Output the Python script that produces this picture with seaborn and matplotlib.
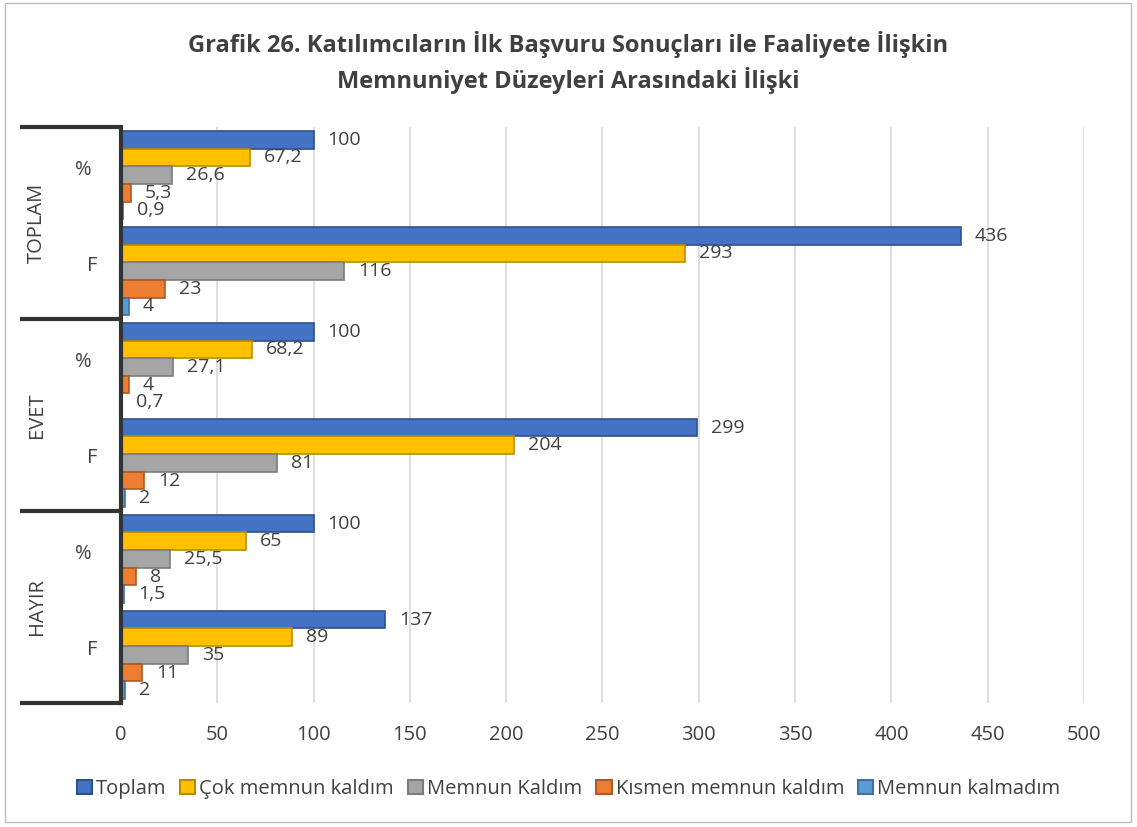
import pandas as pd
import numpy as np
import matplotlib.pyplot as plt
import seaborn as sns
from matplotlib.patches import Rectangle
import matplotlib.transforms as mtransforms

# data
groups = ['TOPLAM', 'EVET', 'HAYIR']
sub_labels = ['%', 'F']
series = ['Toplam', 'Çok memnun kaldım', 'Memnun Kaldım', 'Kısmen memnun kaldım', 'Memnun kalmadım']

toplam_pct = [100, 67.2, 26.6, 5.3, 0.9]
toplam_f = [436, 293, 116, 23, 4]
evet_pct = [100, 68.2, 27.1, 4, 0.7]
evet_f = [299, 204, 81, 12, 2]
hayir_pct = [100, 65, 25.5, 8, 1.5]
hayir_f = [137, 89, 35, 11, 2]

colors = ['#4472C4', '#FFC000', '#A5A5A5', '#ED7D31', '#5B9BD5']
edges = ['#2F528F', '#BC8C00', '#7C7C7C', '#AE5A21', '#41719C']

# long format table
rows = []
for g, pct, f in zip(groups, [toplam_pct, evet_pct, hayir_pct], [toplam_f, evet_f, hayir_f]):
    for s, v in zip(series, pct):
        rows.append({'cat': g + ' %', 'series': s, 'value': v})
    for s, v in zip(series, f):
        rows.append({'cat': g + ' F', 'series': s, 'value': v})
df = pd.DataFrame(rows)
cat_order = [g + ' ' + s for g in groups for s in sub_labels]

sns.set_style('white')
plt.rcParams['font.family'] = ['Open Sans', 'DejaVu Sans']

fig = plt.figure(figsize=(11.37, 8.27), dpi=100)
ax = fig.add_axes([0.1064, 0.150, 0.847, 0.6964])

sns.barplot(data=df, y='cat', x='value', hue='series', order=cat_order, hue_order=series,
            palette=colors, saturation=1, orient='h', width=0.92, ax=ax, legend=True)

for cont, ec in zip(ax.containers, edges):
    for p in cont:
        p.set_edgecolor(ec)
        p.set_linewidth(1.2)
    labels = [f'{p.get_width():g}'.replace('.', ',') for p in cont]
    ax.bar_label(cont, labels=labels, padding=10, fontsize=14, color='#404040')

ax.set_xlim(0, 500)
ax.set_ylim(5.5, -0.5)
ax.set_xticks(np.arange(0, 501, 50))
ax.xaxis.grid(True, color='#D9D9D9', linewidth=1.2)
ax.set_axisbelow(True)
ax.set_xlabel('')
ax.set_ylabel('')
ax.tick_params(axis='x', labelsize=14.5, colors='#404040', length=0, pad=16)
ax.tick_params(axis='y', length=0)
for sp in ['top', 'right', 'bottom']:
    ax.spines[sp].set_visible(False)
ax.spines['left'].set_color('#333333')
ax.spines['left'].set_linewidth(3)

# multi level category axis
ax.set_yticks(range(len(cat_order)))
ax.set_yticklabels([])
trans = mtransforms.blended_transform_factory(ax.transAxes, ax.transData)
for i, c in enumerate(cat_order):
    lab = c.split(' ')[1]
    xoff = -0.039 if lab == '%' else -0.03
    ax.text(xoff, i - 0.05, lab, transform=trans, ha='center', va='center', fontsize=14.5, color='#404040')
for k, g in enumerate(groups):
    ax.text(-0.087, 2 * k + 0.5, g, transform=trans, rotation=90, ha='center', va='center',
            fontsize=14.5, color='#404040')
for yb in [-0.5, 1.5, 3.5, 5.5]:
    ax.plot([-0.105, 0], [yb, yb], transform=trans, color='#333333', linewidth=3, clip_on=False,
            solid_capstyle='butt')

# legend
h, l = ax.get_legend_handles_labels()
ax.legend_.remove()
leg = fig.legend(h, l, loc='center', bbox_to_anchor=(0.5, 0.046), ncol=5, frameon=False, fontsize=14.5,
                 handlelength=0.75, handleheight=0.75, handletextpad=0.2, columnspacing=0.7,
                 labelcolor='#404040')
for hd, ec in zip(leg.legend_handles, edges):
    hd.set_edgecolor(ec)
    hd.set_linewidth(1.5)

fig.suptitle('Grafik 26. Katılımcıların İlk Başvuru Sonuçları ile Faaliyete İlişkin\nMemnuniyet Düzeyleri Arasındaki İlişki',
             x=0.5, y=0.962, fontsize=17, fontweight='bold', color='#404040', linespacing=1.4)

fig.patches.append(Rectangle((0.004, 0.006), 0.991, 0.99, transform=fig.transFigure, fill=False,
                             edgecolor='#BFBFBF', linewidth=1))

fig.savefig('out.png', dpi=100)
